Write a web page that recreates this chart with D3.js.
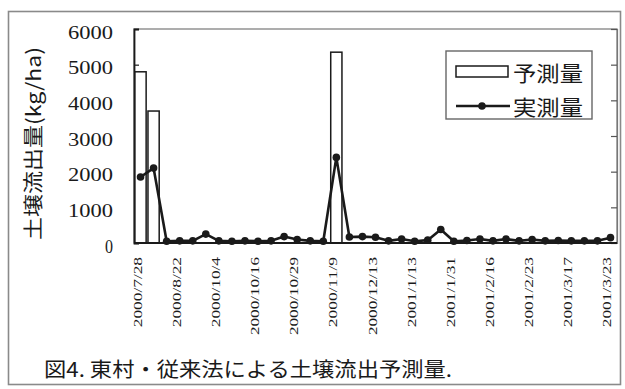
<!DOCTYPE html>
<html>
<head>
<meta charset="utf-8">
<script src="https://cdn.jsdelivr.net/npm/d3@7"></script>
<style>
  body { margin: 0; background: #fff; }
  svg { display: block; }
</style>
</head>
<body>
<svg id="chart" width="625" height="389"></svg>
<script>
// Soil runoff per sampling event (kg/ha)
const categoryCount = 37;
const tickEvery = 3;
const tickLabels = [
  "2000/7/28", "2000/8/22", "2000/10/4", "2000/10/16", "2000/10/29",
  "2000/11/9", "2000/12/13", "2001/1/13", "2001/1/31", "2001/2/16",
  "2001/2/23", "2001/3/17", "2001/3/23"
];
// 予測量 (predicted, bars)
const predicted = [
  4800, 3700, 0, 0, 0, 0, 0, 0, 0, 0,
  0, 0, 0, 0, 0, 5350, 0, 0, 0, 0,
  0, 0, 0, 0, 0, 0, 0, 0, 0, 0,
  0, 0, 0, 0, 0, 0, 0
];
// 実測量 (measured, line with markers)
const measured = [
  1850, 2100, 50, 60, 60, 250, 60, 50, 60, 50,
  60, 180, 100, 60, 50, 2400, 170, 180, 160, 60,
  110, 50, 80, 380, 50, 70, 110, 60, 110, 60,
  100, 60, 70, 60, 60, 60, 150
];
const yTicks = [0, 1000, 2000, 3000, 4000, 5000, 6000];
const yTitle = "土壌流出量(kg/ha)";
const legendLabels = ["予測量", "実測量"];
const caption = "図4. 東村・従来法による土壌流出予測量.";

const svg = d3.select("#chart");
const ink = "#1a1a1a";
const serif = "'Liberation Serif', 'DejaVu Serif', serif";
const cjk = "'Noto Sans CJK JP', 'Noto Sans', sans-serif";

const plot = { left: 134, right: 617, top: 29, bottom: 243 };

svg.append("rect").attr("width", 625).attr("height", 389).attr("fill", "#fff");

// outer frame
svg.append("rect")
  .attr("x", 8.5).attr("y", 11.5).attr("width", 612).attr("height", 373)
  .attr("fill", "none").attr("stroke", "#8a8a8a").attr("stroke-width", 1.6);

const idx = d3.range(categoryCount);
const x = d3.scaleBand().domain(idx)
  .range([plot.left, plot.right])
  .paddingInner(0.14).paddingOuter(0.07);
const cx = i => x(i) + x.bandwidth() / 2;

const y = d3.scaleLinear().domain([0, 6000]).range([plot.bottom, plot.top]);

// plot area border
svg.append("rect")
  .attr("x", plot.left).attr("y", plot.top)
  .attr("width", plot.right - plot.left).attr("height", plot.bottom - plot.top)
  .attr("fill", "none").attr("stroke", "#777").attr("stroke-width", 1.2);

// left axis with inward ticks
const yAxisL = svg.append("g")
  .attr("transform", `translate(${plot.left},0)`)
  .call(d3.axisLeft(y).tickValues(yTicks).tickSize(-5).tickFormat(""));
yAxisL.select(".domain").attr("stroke", ink).attr("stroke-width", 1.8);
yAxisL.selectAll(".tick line").attr("stroke", ink).attr("stroke-width", 1.2);

// right axis with inward ticks
const yAxisR = svg.append("g")
  .attr("transform", `translate(${plot.right},0)`)
  .call(d3.axisRight(y).tickValues(yTicks).tickSize(-6).tickFormat(""));
yAxisR.select(".domain").attr("stroke", "#777").attr("stroke-width", 1.2);
yAxisR.selectAll(".tick line").attr("stroke", "#555").attr("stroke-width", 1.2);

// y tick labels
svg.append("g").selectAll("text").data(yTicks).join("text")
  .attr("x", 113)
  .attr("y", d => y(d) + 3)
  .attr("text-anchor", "end")
  .attr("dominant-baseline", "central")
  .attr("font-family", serif)
  .attr("font-size", 19)
  .attr("fill", ink)
  .attr("textLength", d => { const n = String(d).length; return 8 + (n - 1) * 12.33; })
  .attr("lengthAdjust", "spacingAndGlyphs")
  .text(d => d);

// y title
svg.append("text")
  .attr("transform", `translate(32,${(47 + 240) / 2}) rotate(-90)`)
  .attr("text-anchor", "middle")
  .attr("dominant-baseline", "central")
  .attr("font-family", cjk)
  .attr("font-size", 20)
  .attr("fill", ink)
  .attr("textLength", 193)
  .attr("lengthAdjust", "spacingAndGlyphs")
  .text(yTitle);

// bars (predicted)
svg.append("g").selectAll("rect")
  .data(predicted.map((v, i) => ({ v, i })).filter(d => d.v > 0))
  .join("rect")
  .attr("x", d => x(d.i))
  .attr("y", d => y(d.v))
  .attr("width", x.bandwidth())
  .attr("height", d => y(0) - y(d.v))
  .attr("fill", "#fff")
  .attr("stroke", ink)
  .attr("stroke-width", 1.5);

// x axis baseline
svg.append("line")
  .attr("x1", plot.left).attr("x2", plot.right)
  .attr("y1", y(0)).attr("y2", y(0))
  .attr("stroke", ink).attr("stroke-width", 1.8);

// measured line
const line = d3.line().x((d, i) => cx(i)).y(d => y(d));
svg.append("path")
  .datum(measured)
  .attr("d", line)
  .attr("fill", "none")
  .attr("stroke", ink)
  .attr("stroke-width", 2.6)
  .attr("stroke-linejoin", "round");

svg.append("g").selectAll("circle").data(measured).join("circle")
  .attr("cx", (d, i) => cx(i))
  .attr("cy", d => y(d))
  .attr("r", 3.8)
  .attr("fill", ink);

// x tick labels, every third category, rotated
svg.append("g").selectAll("text").data(tickLabels).join("text")
  .attr("transform", (d, k) => `translate(${cx(k * tickEvery) - 3.5},257) rotate(-90)`)
  .attr("text-anchor", "end")
  .attr("dominant-baseline", "central")
  .attr("font-family", serif)
  .attr("font-size", 13)
  .attr("fill", ink)
  .attr("textLength", d => d.length * 7.8)
  .attr("lengthAdjust", "spacingAndGlyphs")
  .text(d => d);

// legend
const lg = svg.append("g");
lg.append("rect")
  .attr("x", 446).attr("y", 51).attr("width", 146).attr("height", 68)
  .attr("fill", "#fff").attr("stroke", "#666").attr("stroke-width", 1.4);
lg.append("rect")
  .attr("x", 456).attr("y", 66).attr("width", 52).attr("height", 11)
  .attr("fill", "#fff").attr("stroke", ink).attr("stroke-width", 1.5);
lg.append("line")
  .attr("x1", 456).attr("x2", 510).attr("y1", 106).attr("y2", 106)
  .attr("stroke", ink).attr("stroke-width", 2.6);
lg.append("circle").attr("cx", 482).attr("cy", 106).attr("r", 3.8).attr("fill", ink);
lg.selectAll("text.lab").data(legendLabels).join("text")
  .attr("class", "lab")
  .attr("x", 513)
  .attr("y", (d, i) => i === 0 ? 72 : 106)
  .attr("dominant-baseline", "central")
  .attr("font-family", cjk)
  .attr("font-size", 21)
  .attr("fill", ink)
  .attr("textLength", 70)
  .attr("lengthAdjust", "spacingAndGlyphs")
  .text(d => d);

// caption
svg.append("text")
  .attr("x", 44).attr("y", 368)
  .attr("dominant-baseline", "central")
  .attr("font-family", cjk)
  .attr("font-size", 20)
  .attr("fill", ink)
  .attr("textLength", 408)
  .attr("lengthAdjust", "spacingAndGlyphs")
  .text(caption);
</script>
</body>
</html>
